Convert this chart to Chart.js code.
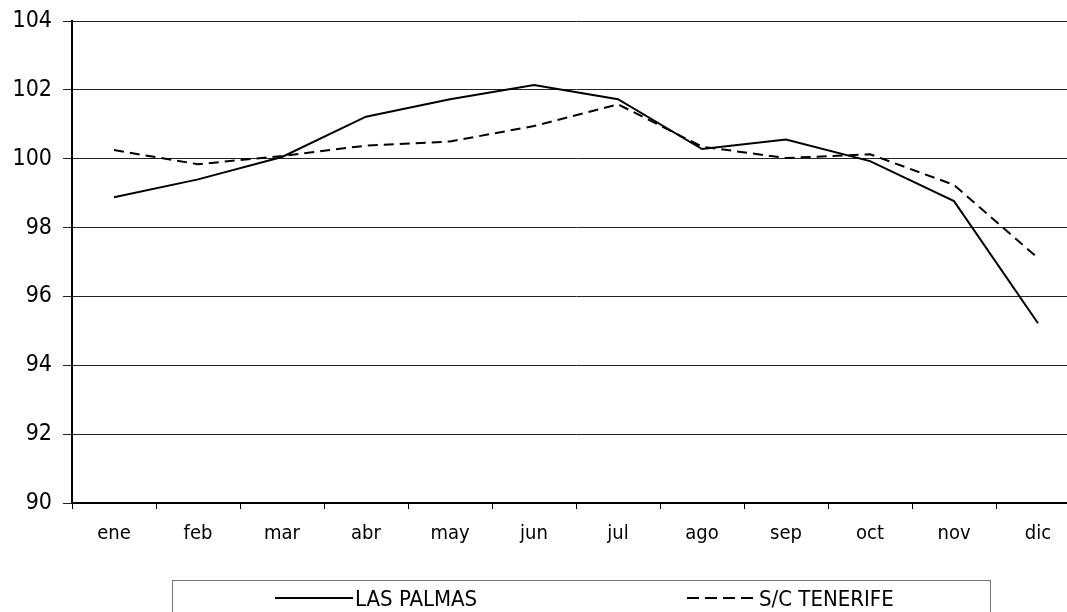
<!DOCTYPE html>
<html>
<head>
<meta charset="utf-8">
<script src="https://cdn.jsdelivr.net/npm/chart.js@4/dist/chart.umd.min.js"></script>
<style>
  html, body { margin: 0; padding: 0; background: #fff; overflow: hidden; width: 1067px; height: 612px; }
  #wrap { position: relative; width: 1067px; height: 612px; overflow: hidden; }
  #chart { position: absolute; left: 0; top: 0; }
  #legend {
    position: absolute; left: 172px; top: 580px; width: 819px; height: 60px;
    border: 1px solid #777; box-sizing: border-box;
    font-family: 'DejaVu Sans Condensed', 'DejaVu Sans', sans-serif; font-size: 22px; color: #000;
  }
  #legend svg { position: absolute; left: 0; top: 0; }
  #legend span { position: absolute; top: 5px; white-space: nowrap; }
</style>
</head>
<body>
<div id="wrap">
  <canvas id="chart" width="1090" height="612"></canvas>
  <div id="legend">
    <svg width="819" height="40">
      <line x1="102" y1="17" x2="180" y2="17" stroke="#000" stroke-width="2"/>
      <line x1="514" y1="17" x2="581" y2="17" stroke="#000" stroke-width="2" stroke-dasharray="12,6"/>
    </svg>
    <span id="lg-lp" style="left:182px"></span>
    <span id="lg-tf" style="left:586px"></span>
  </div>
</div>
<script>
const months = ['ene', 'feb', 'mar', 'abr', 'may', 'jun', 'jul', 'ago', 'sep', 'oct', 'nov', 'dic'];
const seriesNames = ['LAS PALMAS', 'S/C TENERIFE'];
const lasPalmas = [98.88, 99.40, 100.05, 101.22, 101.73, 102.14, 101.73, 100.28, 100.56, 99.93, 98.77, 95.22];
const tenerife = [100.25, 99.84, 100.08, 100.38, 100.50, 100.95, 101.58, 100.35, 100.02, 100.13, 99.24, 97.11];
const yMin = 90, yMax = 104, yStep = 2;

const fontFamily = "'DejaVu Sans Condensed', 'DejaVu Sans', sans-serif";

document.getElementById('lg-lp').textContent = seriesNames[0];
document.getElementById('lg-tf').textContent = seriesNames[1];

new Chart(document.getElementById('chart').getContext('2d'), {
  type: 'line',
  data: {
    labels: months,
    datasets: [
      {
        label: seriesNames[0],
        data: lasPalmas,
        borderColor: '#000',
        borderWidth: 2,
        pointRadius: 0,
        tension: 0,
        fill: false
      },
      {
        label: seriesNames[1],
        data: tenerife,
        borderColor: '#000',
        borderWidth: 2,
        borderDash: [10, 6],
        pointRadius: 0,
        tension: 0,
        fill: false
      }
    ]
  },
  options: {
    responsive: false,
    animation: false,
    devicePixelRatio: 1,
    layout: { padding: { left: 0, top: 21, right: 10, bottom: 0 } },
    plugins: { legend: { display: false }, tooltip: { enabled: false } },
    scales: {
      x: {
        offset: true,
        grid: { offset: true, drawOnChartArea: false, drawTicks: true, tickLength: 6, color: '#000', lineWidth: 1 },
        border: { color: '#000', width: 2 },
        ticks: { color: '#000', font: { family: fontFamily, size: 20 }, padding: 13, maxRotation: 0, autoSkip: false },
        afterFit: s => { s.height = 109; }
      },
      y: {
        min: yMin,
        max: yMax,
        grid: { color: '#222', lineWidth: 1, tickLength: 9 },
        border: { color: '#000', width: 2 },
        ticks: { stepSize: yStep, color: '#000', font: { family: fontFamily, size: 23, lineHeight: 1 }, padding: 11 },
        afterFit: s => { s.width = 72; s.paddingTop = 0; s.paddingBottom = 0; }
      }
    }
  }
});
</script>
</body>
</html>
